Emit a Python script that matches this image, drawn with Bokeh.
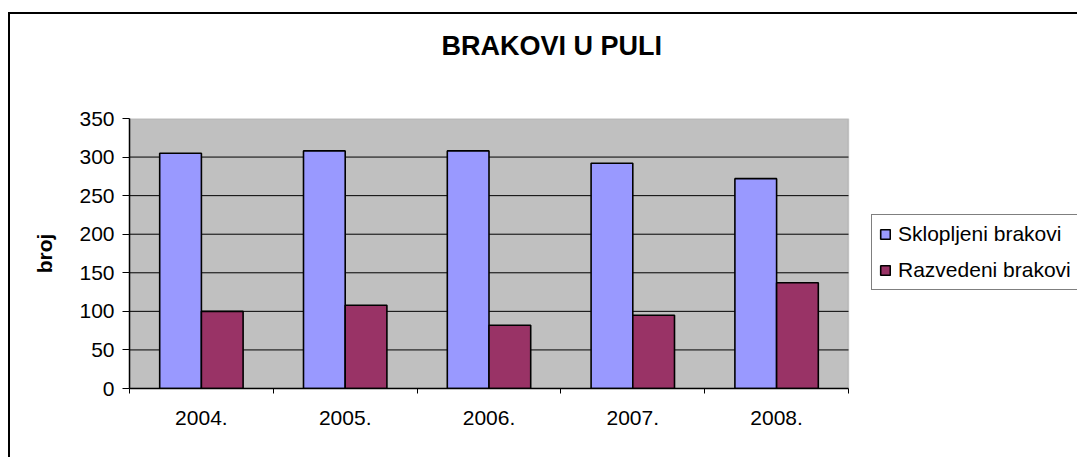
from bokeh.plotting import figure
from bokeh.models import FixedTicker, Legend, LegendItem, Range1d, ColumnDataSource, BoxAnnotation
from bokeh.transform import dodge
from bokeh.embed import file_html
from bokeh.resources import INLINE

years = ["2004.", "2005.", "2006.", "2007.", "2008."]
sklopljeni = [305, 308, 308, 292, 272]
razvedeni = [100, 108, 82, 95, 137]
y_ticks = [0, 50, 100, 150, 200, 250, 300, 350]
series_names = ["Sklopljeni brakovi", "Razvedeni brakovi"]
title_text = "BRAKOVI U PULI"
y_label = "broj"

FONT = "Liberation Sans"

# layout (pixels): plot area 719 wide, frame extends to the right edge so the legend can sit there
PLOT_W, FRAME_W, FRAME_H = 719, 948, 270
n = len(years)
x_end = n * FRAME_W / PLOT_W

pos = [i + 0.5 for i in range(n)]
src = ColumnDataSource(dict(x=pos, a=sklopljeni, b=razvedeni))
grid_y = y_ticks[1:-1]
grid_src = ColumnDataSource(dict(x0=[0] * len(grid_y), x1=[n] * len(grid_y), y=grid_y))

p = figure(width=1067, height=443, frame_width=FRAME_W, frame_height=FRAME_H,
           output_backend="svg", toolbar_location=None,
           x_range=Range1d(0, x_end), y_range=Range1d(y_ticks[0], y_ticks[-1]),
           min_border_left=119, min_border_right=0, min_border_top=104, min_border_bottom=69,
           background_fill_color="white", border_fill_color="white")
# outer chart-area frame: only its left and top edges fall inside the window
p.styles = {"margin-left": "8px", "margin-top": "12px",
            "border-left": "2px solid black", "border-top": "2px solid black"}

p.title.text = title_text + "\n"
p.title.align = "left"
p.title.offset = 312
p.title.standoff = 20
p.title.text_line_height = 1.6
p.title.text_font = FONT
p.title.text_font_size = "27px"
p.title.text_font_style = "bold"
p.title.text_color = "black"

p.outline_line_color = None

# grey plot area
p.add_layout(BoxAnnotation(left=0, right=n, bottom=y_ticks[0], top=y_ticks[-1],
                           fill_color="#C0C0C0", fill_alpha=1,
                           line_color="#808080", line_width=1.5, level="underlay"))

p.xgrid.visible = False
p.ygrid.visible = False
p.segment(x0="x0", x1="x1", y0="y", y1="y", source=grid_src, line_color="black", line_width=1)

bw = 0.29
ra = p.vbar(x=dodge("x", -bw / 2, range=p.x_range), top="a", width=bw, source=src,
            fill_color="#9999FF", line_color="black", line_width=1.6)
rb = p.vbar(x=dodge("x", bw / 2, range=p.x_range), top="b", width=bw, source=src,
            fill_color="#993366", line_color="black", line_width=1.6)

# x axis: labels at category centres, tick marks at category boundaries
xa = p.xaxis[0]
xa.bounds = (0, n)
xa.ticker = FixedTicker(ticks=pos, minor_ticks=list(range(n + 1)))
xa.major_label_overrides = {x: y for x, y in zip(pos, years)}
xa.major_tick_out = 0
xa.major_tick_in = 0
xa.minor_tick_out = 5
xa.minor_tick_in = 0
xa.minor_tick_line_color = "black"
xa.axis_line_color = "black"
xa.axis_line_width = 1.5
xa.major_label_text_font = FONT
xa.major_label_text_font_size = "21px"
xa.major_label_text_color = "black"
xa.major_label_standoff = 17

ya = p.yaxis[0]
ya.ticker = FixedTicker(ticks=y_ticks)
ya.major_tick_out = 7
ya.major_tick_in = 0
ya.minor_tick_out = 0
ya.major_tick_line_color = "black"
ya.axis_line_color = "black"
ya.axis_line_width = 1.5
ya.major_label_text_font = FONT
ya.major_label_text_font_size = "21px"
ya.major_label_text_color = "black"
ya.major_label_standoff = 8
ya.axis_label = y_label
ya.axis_label_text_font = FONT
ya.axis_label_text_font_size = "21px"
ya.axis_label_text_font_style = "bold"
ya.axis_label_text_color = "black"
ya.axis_label_standoff = 20

legend = Legend(items=[LegendItem(label=series_names[0], renderers=[ra]),
                       LegendItem(label=series_names[1], renderers=[rb])],
                location=(PLOT_W + 23, 98), margin=0, padding=7, spacing=12,
                glyph_width=12, glyph_height=12, label_standoff=7, label_width=185,
                label_text_font=FONT, label_text_font_size="21px", label_text_color="black",
                border_line_color="black", border_line_width=1.5,
                background_fill_color="white")
p.add_layout(legend, "center")

open("out.html", "w").write(file_html(p, INLINE))
